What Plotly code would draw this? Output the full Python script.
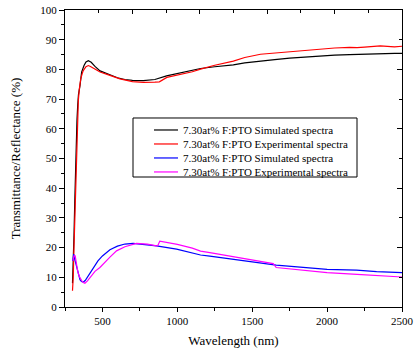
import plotly.graph_objects as go

# Transmittance - simulated (black)
wl_t_sim = [300, 305, 310, 315, 320, 325, 330, 335, 340, 350, 361, 377, 390, 406, 425, 450, 484, 550, 600, 650, 700, 773, 850, 928, 1000, 1100, 1155, 1250, 1374, 1450, 1555, 1650, 1750, 1850, 1955, 2050, 2150, 2250, 2355, 2450, 2500]
t_sim = [8.0, 14.0, 24.0, 35.0, 46.0, 56.0, 63.0, 68.0, 71.5, 74.5, 79.1, 81.3, 82.5, 82.9, 82.4, 81.0, 79.5, 78.2, 77.2, 76.6, 76.3, 76.2, 76.6, 77.8, 78.6, 79.6, 80.3, 80.9, 81.5, 82.2, 82.9, 83.3, 83.8, 84.2, 84.5, 84.8, 85.0, 85.2, 85.4, 85.4, 85.4]

# Transmittance - experimental (red)
wl_t_exp = [300, 305, 310, 315, 320, 325, 332, 339, 345, 355, 365, 372, 390, 406, 420, 450, 484, 550, 617, 700, 773, 850, 880, 930, 1000, 1100, 1155, 1250, 1374, 1450, 1555, 1650, 1750, 1850, 1955, 2050, 2150, 2200, 2250, 2300, 2355, 2450, 2500]
t_exp = [5.5, 10.0, 20.0, 30.0, 41.0, 51.0, 64.0, 69.5, 73.1, 76.8, 78.6, 79.6, 80.9, 81.3, 81.0, 80.0, 79.1, 78.0, 76.8, 75.9, 75.6, 75.7, 75.8, 77.3, 78.0, 79.2, 80.1, 81.4, 82.8, 84.0, 85.1, 85.5, 85.9, 86.4, 87.0, 87.2, 87.4, 87.3, 87.5, 87.8, 87.9, 87.6, 87.8]

# Reflectance - simulated (blue)
wl_r_sim = [302, 305, 308, 313, 320, 330, 340, 350, 360, 372, 385, 400, 420, 439, 470, 500, 550, 600, 650, 705, 760, 861, 995, 1155, 1217, 1350, 1500, 1660, 1800, 2000, 2197, 2330, 2500]
r_sim = [15.5, 16.5, 17.8, 16.5, 15.0, 12.5, 10.5, 9.2, 8.6, 8.4, 8.9, 10.0, 11.8, 13.3, 15.5, 17.2, 19.3, 20.5, 21.2, 21.4, 21.2, 20.6, 19.5, 17.5, 17.1, 16.2, 15.0, 14.1, 13.5, 12.7, 12.4, 11.9, 11.6]

# Reflectance - experimental (magenta)
wl_r_exp = [303, 310, 318, 325, 335, 345, 355, 365, 375, 383, 400, 420, 450, 483, 520, 550, 594, 650, 727, 800, 861, 870, 883, 950, 1000, 1100, 1155, 1217, 1300, 1400, 1500, 1600, 1640, 1660, 1750, 1850, 2000, 2200, 2350, 2500]
r_exp = [15.5, 17.2, 17.2, 14.5, 12.0, 10.3, 9.2, 8.6, 8.2, 8.0, 8.8, 10.2, 12.0, 13.3, 15.4, 16.8, 18.9, 20.3, 21.4, 21.2, 20.6, 20.7, 22.2, 21.6, 21.1, 19.8, 18.8, 18.3, 17.6, 16.7, 15.8, 15.0, 14.6, 13.3, 12.9, 12.3, 11.6, 11.0, 10.6, 10.1]

x_ticks = [500, 1000, 1500, 2000, 2500]
legend_names = ["7.30at% F:PTO Simulated spectra",
                "7.30at% F:PTO Experimental spectra",
                "7.30at% F:PTO Simulated spectra",
                "7.30at% F:PTO Experimental spectra"]
colors = ["black", "red", "blue", "magenta"]

FONT = "Times New Roman, Liberation Serif, DejaVu Serif, serif"

fig = go.Figure()
series = [(wl_t_sim, t_sim), (wl_t_exp, t_exp), (wl_r_sim, r_sim), (wl_r_exp, r_exp)]
for (xs, ys), name, c in zip(series, legend_names, colors):
    fig.add_trace(go.Scatter(x=xs, y=ys, mode="lines", name=name, showlegend=False,
                             line=dict(color=c, width=1.2)))

# empty trace to activate mirror axes (top / right)
fig.add_trace(go.Scatter(x=[], y=[], xaxis="x2", yaxis="y2", showlegend=False, hoverinfo="skip"))

# compact legend box (drawn in paper coordinates)
LX0, LX1, LY0, LY1 = 0.2018, 0.8665, 0.4377, 0.6364
row_top, row_step = 0.596, 0.0471
shapes = [dict(type="rect", xref="paper", yref="paper", x0=LX0, x1=LX1, y0=LY0, y1=LY1,
               line=dict(color="black", width=1), fillcolor="white", layer="above")]
annotations = []
for i, (name, c) in enumerate(zip(legend_names, colors)):
    yy = row_top - i * row_step
    shapes.append(dict(type="line", xref="paper", yref="paper", x0=0.2641, x1=0.3353,
                       y0=yy, y1=yy, line=dict(color=c, width=1.2), layer="above"))
    annotations.append(dict(xref="paper", yref="paper", x=0.345, y=yy, text=name,
                            showarrow=False, xanchor="left", yanchor="middle",
                            font=dict(family=FONT, size=11, color="black")))

fig.update_layout(
    width=419, height=352,
    margin=dict(l=65, r=17, t=10, b=45),
    plot_bgcolor="white", paper_bgcolor="white",
    font=dict(family=FONT, color="black", size=11),
    showlegend=False,
    shapes=shapes, annotations=annotations,
    xaxis=dict(range=[250, 2500], tickvals=x_ticks, ticks="outside", ticklen=4,
               tickcolor="black", showline=True, linecolor="black", linewidth=1,
               showgrid=False, zeroline=False, automargin=False,
               minor=dict(dtick=250, tick0=250, ticks="outside", ticklen=2.5, tickcolor="black", showgrid=False),
               title=dict(text="Wavelength (nm)", font=dict(size=13, family=FONT), standoff=9),
               tickfont=dict(size=11, family=FONT)),
    yaxis=dict(range=[0, 100], dtick=10, ticks="outside", ticklen=5,
               tickcolor="black", showline=True, linecolor="black", linewidth=1,
               showgrid=False, zeroline=False, automargin=False,
               minor=dict(dtick=5, ticks="outside", ticklen=3, tickcolor="black", showgrid=False),
               title=dict(text="Transmittance/Reflectance (%)", font=dict(size=13, family=FONT), standoff=16),
               tickfont=dict(size=11, family=FONT)),
    xaxis2=dict(overlaying="x", side="top", anchor="y", range=[0, 5], dtick=1,
                ticks="inside", ticklen=4, tickcolor="black", showticklabels=False,
                showline=True, linecolor="black", linewidth=1, showgrid=False, zeroline=False,
                automargin=False,
                minor=dict(dtick=0.5, ticks="inside", ticklen=2.5, tickcolor="black", showgrid=False)),
    yaxis2=dict(overlaying="y", side="right", anchor="x", range=[0, 100], dtick=20,
                ticks="inside", ticklen=5, tickcolor="black", showticklabels=False,
                showline=True, linecolor="black", linewidth=1, showgrid=False, zeroline=False,
                automargin=False,
                minor=dict(dtick=10, ticks="inside", ticklen=3, tickcolor="black", showgrid=False)),
)

fig.write_html("out.html", config={"displayModeBar": False},
               post_script="document.body.style.margin='0';")
